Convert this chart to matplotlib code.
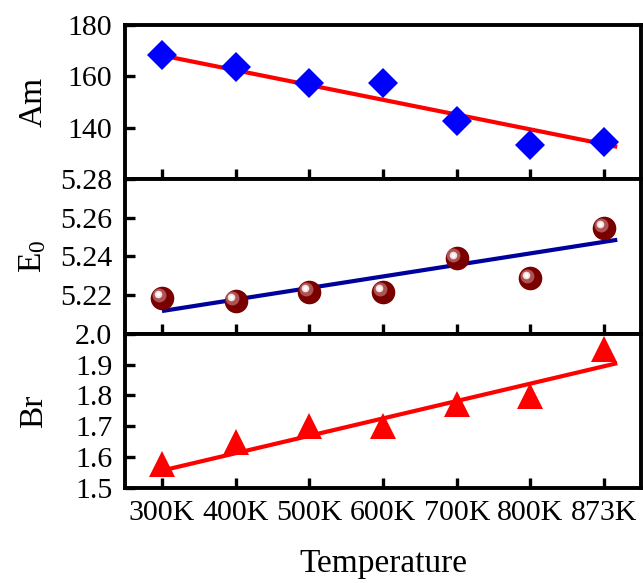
import matplotlib
matplotlib.use("Agg")
import matplotlib.pyplot as plt
import matplotlib.transforms as mtransforms

plt.rcParams['font.family'] = ['Liberation Serif', 'DejaVu Serif']
plt.rcParams['mathtext.fontset'] = 'custom'
plt.rcParams['mathtext.rm'] = 'Liberation Serif'

# data
temps = ["300K", "400K", "500K", "600K", "700K", "800K", "873K"]
am = [168.2, 163.5, 157.6, 157.6, 142.7, 133.3, 134.5]
e0 = [5.2187, 5.2170, 5.2218, 5.2218, 5.2391, 5.2287, 5.2549]
br = [1.577, 1.648, 1.700, 1.700, 1.771, 1.797, 1.951]

# fitted lines (start / end)
fit_x = [0.03, 6.15]
am_fit = [168.0, 132.8]
e0_fit = [5.2119, 5.2485]
br_fit = [1.558, 1.903]

x = list(range(len(temps)))

fig = plt.figure(figsize=(6.43, 5.83), dpi=100)
axes = fig.subplots(3, 1, sharex=True)
fig.subplots_adjust(left=125/643, right=641/643, top=1-25/583, bottom=1-488/583, hspace=0)

for ax in axes:
    for s in ax.spines.values():
        s.set_linewidth(2.8)
    ax.tick_params(direction='in', length=7, width=2.4, labelsize=21.5, pad=9,
                   top=False, right=False)
    ax.set_xlim(-0.5, 6.5)

# Am panel
ax = axes[0]
ax.plot(fit_x, am_fit, color='#ff0000', lw=3, zorder=2)
ax.plot(x, am, 'D', color='#0000ff', ms=15, mew=0, zorder=3)
ax.set_ylim(120, 180)
ax.set_yticks([120, 140, 160, 180])
ax.set_yticklabels(['', '140', '160', '180'])
ax.set_ylabel('Am', fontsize=24)

# E0 panel, spheres drawn as layered circles
ax = axes[1]
ax.plot(fit_x, e0_fit, color='#00009c', lw=3, zorder=2)
ax.plot(x, e0, 'o', color='#7a0000', ms=17, mew=0, zorder=3)
off1 = mtransforms.offset_copy(ax.transData, fig=fig, x=-2.4, y=2.0, units='points')
off2 = mtransforms.offset_copy(ax.transData, fig=fig, x=-3.0, y=2.6, units='points')
ax.plot(x, e0, 'o', color='#c07070', ms=10, mew=0, alpha=0.75, transform=off1, zorder=4)
ax.plot(x, e0, 'o', color='#f4dede', ms=5.5, mew=0, transform=off2, zorder=5)
ax.plot(x, e0, 'o', color='#ffffff', ms=3, mew=0, transform=off2, zorder=6)
ax.set_ylim(5.20, 5.28)
ax.set_yticks([5.20, 5.22, 5.24, 5.26, 5.28])
ax.set_yticklabels(['', '5.22', '5.24', '5.26', '5.28'])
ax.set_ylabel(r'$\mathregular{E_0}$', fontsize=24)

# Br panel
ax = axes[2]
ax.plot(fit_x, br_fit, color='#ff0000', lw=3, zorder=2)
ax.plot(x, br, '^', color='#ff0000', ms=19, mew=0, zorder=3)
ax.set_ylim(1.5, 2.0)
ax.set_yticks([1.5, 1.6, 1.7, 1.8, 1.9, 2.0])
ax.set_yticklabels(['1.5', '1.6', '1.7', '1.8', '1.9', '2.0'])
ax.set_ylabel('Br', fontsize=24)
ax.set_xticks(x)
ax.set_xticklabels(temps)
ax.set_xlabel('Temperature', fontsize=24, labelpad=16)

for ax in axes:
    ax.yaxis.set_label_coords(-0.148, 0.5)

fig.savefig('out.png', dpi=100)
